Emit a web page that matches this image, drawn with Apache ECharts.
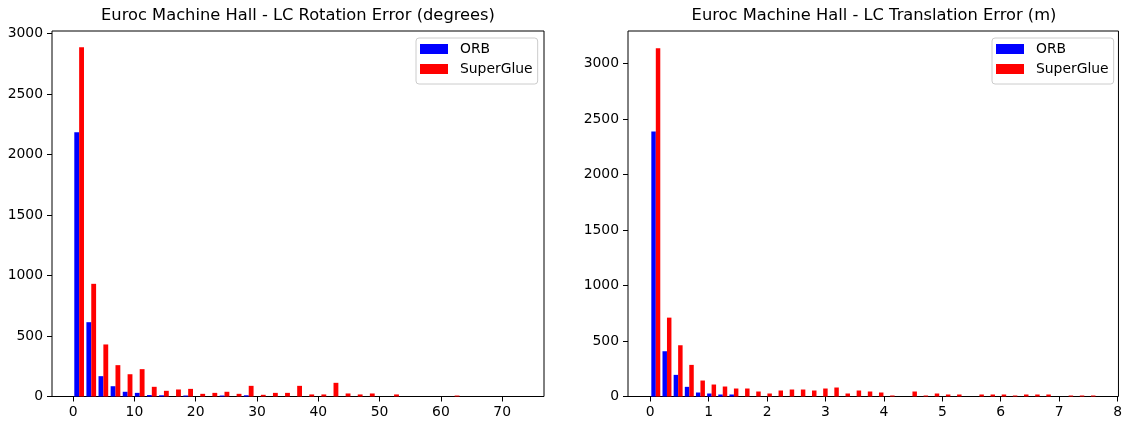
<!DOCTYPE html>
<html><head><meta charset="utf-8">
<script src="https://cdn.jsdelivr.net/npm/echarts@6/dist/echarts.min.js"></script>
<style>html,body{margin:0;padding:0;background:#fff}#c{width:1125px;height:421px}</style>
</head><body><div id="c"></div>
<script>
// ---- data ----
const seriesNames = ['ORB', 'SuperGlue'];
const titles = ['Euroc Machine Hall - LC Rotation Error (degrees)', 'Euroc Machine Hall - LC Translation Error (m)'];

const rotBinStart = 0;
const rotBinWidth = 1.976;
const rotORB = [2183, 614, 168, 85, 39, 30, 12, 10, 0, 8, 0, 0, 8, 0, 10, 0, 0, 0, 0, 0, 0, 0, 0, 0, 0, 0, 0, 0, 0, 0, 0, 0, 0, 0, 0, 0, 0];
const rotSuperGlue = [2885, 931, 430, 259, 184, 226, 80, 47, 58, 63, 22, 30, 39, 22, 88, 14, 30, 30, 88, 17, 17, 113, 25, 17, 25, 0, 17, 0, 0, 0, 0, 8, 0, 0, 0, 0, 0];

const transBinStart = 0;
const transBinWidth = 0.191;
const transORB = [2390, 408, 195, 87, 36, 27, 18, 18, 0, 0, 0, 0, 0, 0, 0, 0, 0, 0, 0, 0, 0, 0, 0, 0, 0, 0, 0, 0, 0, 0, 0, 0, 0, 0, 0, 0, 0, 0, 0, 0];
const transSuperGlue = [3140, 711, 462, 285, 144, 108, 90, 72, 72, 45, 27, 54, 63, 63, 54, 72, 81, 27, 54, 45, 36, 9, 0, 45, 9, 27, 18, 18, 0, 18, 18, 18, 9, 18, 18, 18, 0, 9, 9, 9];

const rotXTicks = [0, 10, 20, 30, 40, 50, 60, 70];
const rotYTicks = [0, 500, 1000, 1500, 2000, 2500, 3000];
const transXTicks = [0, 1, 2, 3, 4, 5, 6, 7, 8];
const transYTicks = [0, 500, 1000, 1500, 2000, 2500, 3000];

// ---- layout ----
const FONT = 'DejaVu Sans';
const colors = ['#0000ff', '#ff0000'];
const grids = [
  { left: 52, top: 31, width: 492, height: 365.5 },
  { left: 628, top: 31, width: 492, height: 365.5 }
];
const xRanges = [[-3.44, 76.82], [-0.3805, 8.015]];
const yMax = [3020, 3295];

function centers(start, w, arr) { return arr.map((v, i) => [start + (i + 0.5) * w, v]); }
function barPx(gi, binW) { return 0.4 * binW * grids[gi].width / (xRanges[gi][1] - xRanges[gi][0]); }

const tickLabel = { fontFamily: FONT, fontSize: 13.9, color: '#000', formatter: v => String(v) };
function xAxis(gi, ticks) {
  return {
    type: 'value', gridIndex: gi, min: xRanges[gi][0], max: xRanges[gi][1],
    axisLine: { show: false, onZero: false },
    axisTick: { show: true, length: 5, lineStyle: { color: '#000', width: 1 }, customValues: ticks },
    axisLabel: Object.assign({ margin: 9, customValues: ticks }, tickLabel),
    splitLine: { show: false }
  };
}
function yAxis(gi, ticks) {
  return {
    type: 'value', gridIndex: gi, min: 0, max: yMax[gi],
    axisLine: { show: false, onZero: false },
    axisTick: { show: true, length: 5, lineStyle: { color: '#000', width: 1 }, customValues: ticks },
    axisLabel: Object.assign({ margin: 9, customValues: ticks }, tickLabel),
    splitLine: { show: false }
  };
}
function bar(name, gi, data, w, color) {
  return { type: 'bar', name: name, xAxisIndex: gi, yAxisIndex: gi, data: data, barWidth: w, barGap: '0%',
    itemStyle: { color: color }, emphasis: { disabled: true } };
}
function legend(left) {
  return {
    left: left, top: 38, orient: 'vertical', data: seriesNames, icon: 'rect',
    itemWidth: 28, itemHeight: 10, itemGap: 4, padding: [3, 5, 7, 4],
    backgroundColor: 'rgba(255,255,255,0.8)', borderColor: '#cccccc', borderWidth: 1, borderRadius: 3,
    textStyle: { fontFamily: FONT, fontSize: 13.9, color: '#000', lineHeight: 16, padding: [0, 0, 0, 7] },
    selectedMode: false
  };
}
const titleStyle = { fontFamily: FONT, fontSize: 16.3, fontWeight: 'normal', color: '#000' };

const chart = echarts.init(document.getElementById('c'), null, { renderer: 'canvas' });
chart.setOption({
  animation: false,
  backgroundColor: '#fff',
  title: [
    { text: titles[0], left: 298, top: 8, textAlign: 'center', padding: 0, textStyle: titleStyle },
    { text: titles[1], left: 874, top: 8, textAlign: 'center', padding: 0, textStyle: titleStyle }
  ],
  grid: grids.map(g => Object.assign({ show: true, borderColor: '#000', borderWidth: 1, backgroundColor: 'transparent' }, g)),
  legend: [legend(416), legend(992)],
  xAxis: [xAxis(0, rotXTicks), xAxis(1, transXTicks)],
  yAxis: [yAxis(0, rotYTicks), yAxis(1, transYTicks)],
  series: [
    bar(seriesNames[0], 0, centers(rotBinStart, rotBinWidth, rotORB), barPx(0, rotBinWidth), colors[0]),
    bar(seriesNames[1], 0, centers(rotBinStart, rotBinWidth, rotSuperGlue), barPx(0, rotBinWidth), colors[1]),
    bar(seriesNames[0], 1, centers(transBinStart, transBinWidth, transORB), barPx(1, transBinWidth), colors[0]),
    bar(seriesNames[1], 1, centers(transBinStart, transBinWidth, transSuperGlue), barPx(1, transBinWidth), colors[1])
  ]
});
</script></body></html>
